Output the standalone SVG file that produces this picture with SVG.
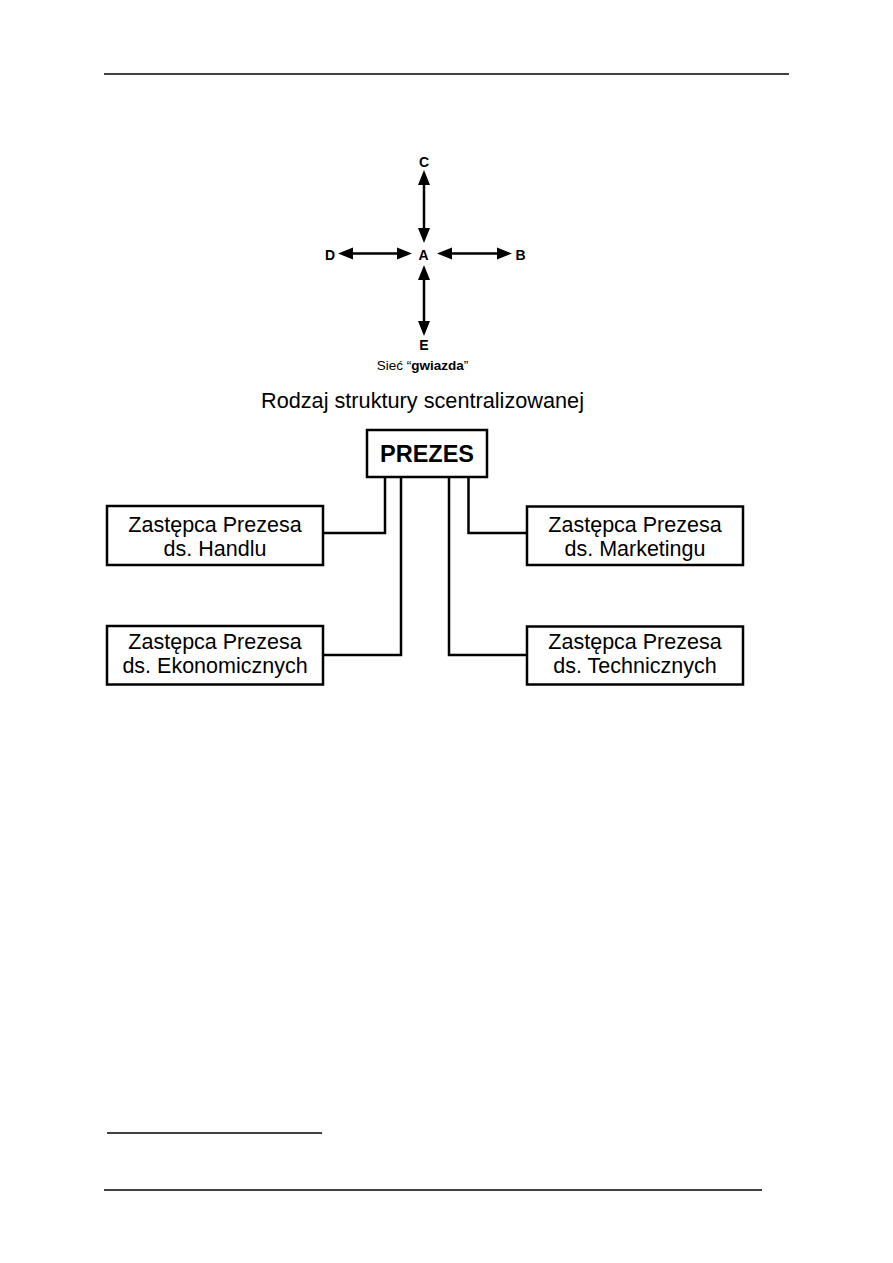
<svg xmlns="http://www.w3.org/2000/svg" width="893" height="1263" viewBox="0 0 893 1263">
<style>
.t{font-family:"Liberation Sans",Arial,sans-serif;fill:#000}
.lbl{font-size:14px;font-weight:bold;text-anchor:middle}
.box{fill:#fff;stroke:#000;stroke-width:2.5}
.bt{font-size:21.5px;text-anchor:middle}
.con{fill:none;stroke:#000;stroke-width:2.5}
.arr{stroke:#000;stroke-width:2.5;marker-start:url(#ah);marker-end:url(#ah)}
.rule{stroke:#000;stroke-width:1.5}
</style>
<defs>
<marker id="ah" markerUnits="userSpaceOnUse" markerWidth="16" markerHeight="14" refX="0" refY="6" orient="auto-start-reverse" viewBox="0 0 16 12">
<path d="M0,0 L15,6 L0,12 z" fill="#000"/>
</marker>
</defs>
<g id="page-rules">
<line class="rule" x1="104" y1="74" x2="789" y2="74"/>
<line class="rule" x1="107" y1="1133" x2="322" y2="1133"/>
<line class="rule" x1="104" y1="1190" x2="762" y2="1190"/>
</g>
<g id="star">
<g id="star-connectors">
<line class="arr" x1="424" y1="185" x2="424" y2="228"/>
<line class="arr" x1="353" y1="253.5" x2="397" y2="253.5"/>
<line class="arr" x1="452" y1="253.5" x2="497" y2="253.5"/>
<line class="arr" x1="424" y1="280" x2="424" y2="321"/>
</g>
<g id="node-C"><text class="t lbl" x="424" y="167">C</text></g>
<g id="node-A"><text class="t lbl" x="423.5" y="260">A</text></g>
<g id="node-D"><text class="t lbl" x="330" y="260">D</text></g>
<g id="node-B"><text class="t lbl" x="520.5" y="260">B</text></g>
<g id="node-E"><text class="t lbl" x="424" y="350">E</text></g>
<text class="t" x="422.5" y="370" font-size="13.5" text-anchor="middle">Sieć “<tspan font-weight="bold">gwiazda</tspan>”</text>
</g>
<text id="title" class="t" x="422.5" y="408" font-size="21.7" text-anchor="middle">Rodzaj struktury scentralizowanej</text>
<g id="connectors">
<path class="con" d="M323,533 H385 V477"/>
<path class="con" d="M323,655 H401 V477"/>
<path class="con" d="M527,533 H468.5 V477"/>
<path class="con" d="M527,655 H449 V477"/>
</g>
<g id="node-prezes">
<rect class="box" x="367" y="430" width="120" height="47"/>
<text class="t" x="427" y="462" font-size="23.5" font-weight="bold" text-anchor="middle">PREZES</text>
</g>
<g id="node-handel">
<rect class="box" x="107" y="506" width="216" height="59"/>
<text class="t bt" x="215" y="531.5">Zastępca Prezesa</text>
<text class="t bt" x="215" y="556">ds. Handlu</text>
</g>
<g id="node-marketing">
<rect class="box" x="527" y="506.5" width="216" height="58.5"/>
<text class="t bt" x="635" y="531.5">Zastępca Prezesa</text>
<text class="t bt" x="635" y="556">ds. Marketingu</text>
</g>
<g id="node-ekonomia">
<rect class="box" x="107" y="626" width="216" height="58.5"/>
<text class="t bt" x="215" y="648.5">Zastępca Prezesa</text>
<text class="t bt" x="215" y="673">ds. Ekonomicznych</text>
</g>
<g id="node-technika">
<rect class="box" x="527" y="626.5" width="216" height="58"/>
<text class="t bt" x="635" y="648.5">Zastępca Prezesa</text>
<text class="t bt" x="635" y="673">ds. Technicznych</text>
</g>
</svg>
